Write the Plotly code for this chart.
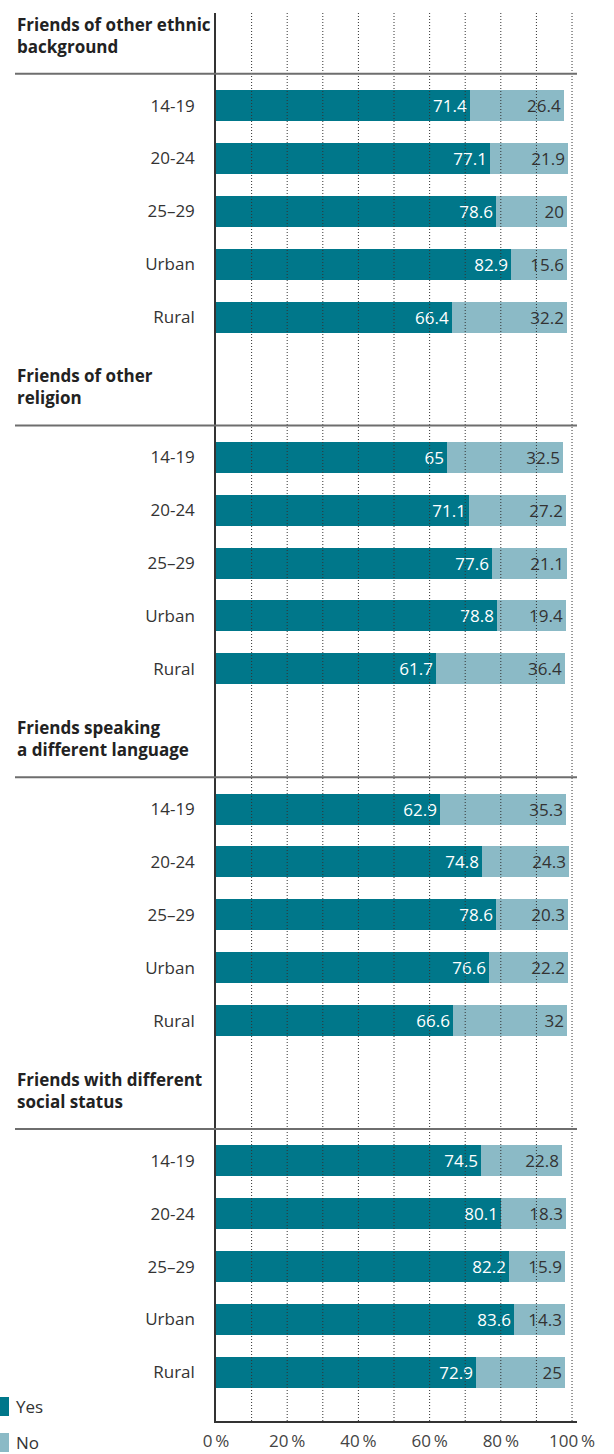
import plotly.graph_objects as go

# ---- data ----
group_titles = [
    "Friends of other ethnic<br>background",
    "Friends of other<br>religion",
    "Friends speaking<br>a different language",
    "Friends with different<br>social status",
]
categories = ["14-19", "20-24", "25\u201329", "Urban", "Rural"]
yes_ethnic = [71.4, 77.1, 78.6, 82.9, 66.4]
no_ethnic = [26.4, 21.9, 20, 15.6, 32.2]
yes_religion = [65, 71.1, 77.6, 78.8, 61.7]
no_religion = [32.5, 27.2, 21.1, 19.4, 36.4]
yes_language = [62.9, 74.8, 78.6, 76.6, 66.6]
no_language = [35.3, 24.3, 20.3, 22.2, 32]
yes_status = [74.5, 80.1, 82.2, 83.6, 72.9]
no_status = [22.8, 18.3, 15.9, 14.3, 25]
x_ticks = [0, 20, 40, 60, 80, 100]
grid_vals = [10, 20, 30, 40, 50, 60, 70, 80, 90, 100]
series_names = ["Yes", "No"]

yes_groups = [yes_ethnic, yes_religion, yes_language, yes_status]
no_groups = [no_ethnic, no_religion, no_language, no_status]

# ---- layout constants ----
GROUP_STEP = 6.65
SEP_OFFSET = -0.6
HEADER_OFFSET = -1.33
YES_COLOR = "#00778a"
NO_COLOR = "#8bbac6"
FONT = "Open Sans"
W, H = 614, 1454
ML, MR, MT, MB = 216, 37, 13, 33
PW = W - ML - MR
PH = H - MT - MB

ypos, ylabels, yes_vals, no_vals = [], [], [], []
for g in range(len(group_titles)):
    for i, c in enumerate(categories):
        ypos.append(g * GROUP_STEP + i)
        ylabels.append(c)
        yes_vals.append(yes_groups[g][i])
        no_vals.append(no_groups[g][i])

def fmt(v):
    return f"{v:g}"

fig = go.Figure()
fig.add_trace(go.Bar(
    y=ypos, x=yes_vals, orientation="h", name=series_names[0],
    marker=dict(color=YES_COLOR, line=dict(width=0)), width=0.586,
    text=[fmt(v) for v in yes_vals], texttemplate="%{text}",
    textposition="inside", insidetextanchor="end",
    insidetextfont=dict(color="white", size=17, family=FONT),
    constraintext="none", showlegend=False,
))
fig.add_trace(go.Bar(
    y=ypos, x=no_vals, orientation="h", name=series_names[1],
    marker=dict(color=NO_COLOR, line=dict(width=0)), width=0.586,
    text=[fmt(v) for v in no_vals], texttemplate="%{text}",
    textposition="inside", insidetextanchor="end",
    insidetextfont=dict(color="#333333", size=17, family=FONT),
    constraintext="none", showlegend=False,
))

shapes = []
# dotted gridlines above bars
for v in grid_vals:
    shapes.append(dict(type="line", xref="x", yref="paper", x0=v, x1=v, y0=0, y1=1,
                       line=dict(color="#333333", width=1, dash="1px,2px"), layer="above"))
# group separators and headers
sep_x0 = (15 - ML) / PW
annotations = []
for g, title in enumerate(group_titles):
    ys = g * GROUP_STEP + SEP_OFFSET
    shapes.append(dict(type="line", xref="paper", yref="y", x0=sep_x0, x1=1, y0=ys, y1=ys,
                       line=dict(color="#6e6e6e", width=2), layer="above"))
    annotations.append(dict(
        text="<b>" + title.replace("<br>", "</b><br><b>") + "</b>",
        xref="paper", yref="y", x=sep_x0, y=g * GROUP_STEP + HEADER_OFFSET,
        xanchor="left", yanchor="middle", align="left", showarrow=False,
        font=dict(size=17, family=FONT, color="#222222"),
    ))

# legend (drawn)
def px_x(p):
    return (p - ML) / PW

def px_y(p):
    return (MT + PH - p) / PH

legend_items = [(series_names[0], YES_COLOR, 1397, 1416), (series_names[1], NO_COLOR, 1433, 1452)]
for name, col, top, bot in legend_items:
    shapes.append(dict(type="rect", xref="paper", yref="paper", x0=px_x(0), x1=px_x(9),
                       y0=px_y(bot), y1=px_y(top), fillcolor=col, line=dict(width=0)))
    annotations.append(dict(text=name, xref="paper", yref="paper", x=px_x(14), y=px_y((top + bot) / 2),
                            xanchor="left", yanchor="middle", showarrow=False,
                            font=dict(size=17, family=FONT, color="#333333")))

fig.update_layout(
    width=W, height=H, margin=dict(l=ML, r=MR, t=MT, b=MB, autoexpand=False),
    barmode="stack", bargap=0, plot_bgcolor="white", paper_bgcolor="white",
    font=dict(family=FONT, size=17, color="#333333"),
    shapes=shapes, annotations=annotations,
    xaxis=dict(range=[0, 101.4], tickvals=x_ticks, ticktext=[f"{v}\u2009%" for v in x_ticks],
               showgrid=False, zeroline=False, showline=True, linecolor="#333333", linewidth=1.5,
               ticks="", ticklabelstandoff=4, tickfont=dict(size=17, color="#444444"),
               automargin=False, fixedrange=True),
    yaxis=dict(range=[24.87, -1.75], tickvals=ypos, ticktext=ylabels, showgrid=False, zeroline=False,
               showline=True, linecolor="#333333", linewidth=1.5, ticks="", ticklabelstandoff=16,
               tickfont=dict(size=17, color="#333333"), automargin=False, fixedrange=True),
)

fig.write_html("out.html")
